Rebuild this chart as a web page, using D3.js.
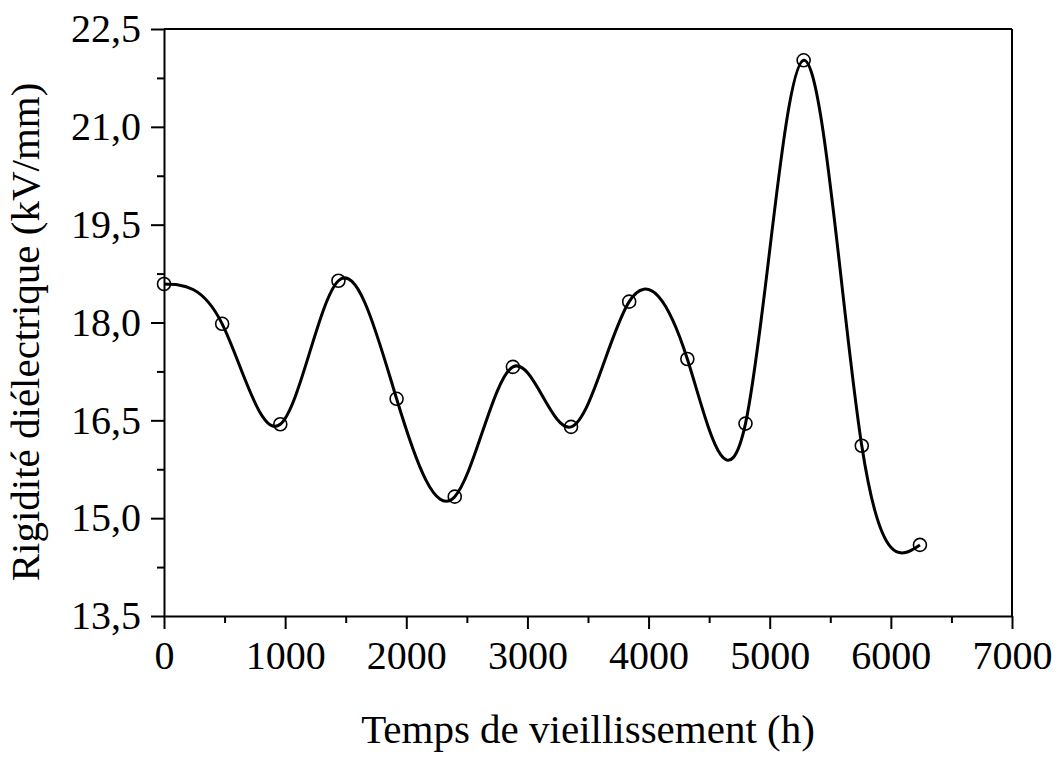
<!DOCTYPE html>
<html>
<head>
<meta charset="utf-8">
<script src="https://cdn.jsdelivr.net/npm/d3@7/dist/d3.min.js"></script>
<style>
  body { margin: 0; background: #fff; }
  svg { display: block; }
  .axis text { font-family: "Liberation Serif", "Times New Roman", serif; font-size: 40px; fill: #000; }
  .axis path, .axis line { stroke: #000; stroke-width: 2; }
  .title { font-family: "Liberation Serif", "Times New Roman", serif; font-size: 41px; fill: #000; }
</style>
</head>
<body>
<svg id="chart"></svg>
<script>
// temps de vieillissement (h)
const hours = [0, 480, 960, 1440, 1920, 2400, 2880, 3360, 3840, 4320, 4800, 5280, 5760, 6240];
// rigidité diélectrique (kV/mm)
const rigidity = [18.59, 17.98, 16.44, 18.64, 16.83, 15.33, 17.32, 16.40, 18.32, 17.44, 16.45, 22.02, 16.11, 14.59];

const xTicks = [0, 1000, 2000, 3000, 4000, 5000, 6000, 7000];
const yTicks = [13.5, 15.0, 16.5, 18.0, 19.5, 21.0, 22.5];

const W = 1059, H = 761;
const margin = { top: 29, right: 47, bottom: 145, left: 164 };
const width = W - margin.left - margin.right;
const height = H - margin.top - margin.bottom;

const svg = d3.select('#chart').attr('width', W).attr('height', H);
const chart = svg.append('g').attr('transform', `translate(${margin.left},${margin.top})`);

const x = d3.scaleLinear().domain([0, 7000]).range([0, width]);
const y = d3.scaleLinear().domain([13.5, 22.5]).range([height, 0]);

const fmt = d => d3.format('.1f')(d).replace('.', ',');

// minor ticks first (no labels)
chart.append('g')
  .attr('class', 'axis')
  .attr('transform', `translate(0,${height})`)
  .call(d3.axisBottom(x).tickValues(d3.range(500, 7000, 1000)).tickSize(7).tickFormat(''))
  .select('.domain').remove();

chart.append('g')
  .attr('class', 'axis')
  .call(d3.axisLeft(y).tickValues(d3.range(14.25, 22.5, 1.5)).tickSize(7).tickFormat(''))
  .select('.domain').remove();

// major axes
chart.append('g')
  .attr('class', 'axis axis--x')
  .attr('transform', `translate(0,${height})`)
  .call(d3.axisBottom(x).tickValues(xTicks).tickSize(13).tickSizeOuter(0).tickPadding(11).tickFormat(d3.format('d')));

chart.append('g')
  .attr('class', 'axis axis--y')
  .call(d3.axisLeft(y).tickValues(yTicks).tickSize(13).tickSizeOuter(0).tickPadding(10).tickFormat(fmt));

chart.selectAll('.axis--x text').attr('dy', '0.72em');

// top and right frame lines
chart.append('line')
  .attr('x1', 0).attr('x2', width).attr('y1', 0).attr('y2', 0)
  .attr('stroke', '#000').attr('stroke-width', 2);
chart.append('line')
  .attr('x1', width).attr('x2', width).attr('y1', 0).attr('y2', height)
  .attr('stroke', '#000').attr('stroke-width', 2);

const data = hours.map((h, i) => [h, rigidity[i]]);

const line = d3.line()
  .curve(d3.curveNatural)
  .x(d => x(d[0]))
  .y(d => y(d[1]));

chart.append('path')
  .datum(data)
  .attr('fill', 'none')
  .attr('stroke', '#000')
  .attr('stroke-width', 3)
  .attr('d', line);

chart.selectAll('.pt')
  .data(data)
  .enter().append('circle')
  .attr('class', 'pt')
  .attr('cx', d => x(d[0]))
  .attr('cy', d => y(d[1]))
  .attr('r', 6.5)
  .attr('fill', 'none')
  .attr('stroke', '#000')
  .attr('stroke-width', 1.6);

// axis titles
svg.append('text')
  .attr('class', 'title')
  .attr('x', margin.left + width / 2)
  .attr('y', 743)
  .attr('text-anchor', 'middle')
  .text('Temps de vieillissement (h)');

svg.append('text')
  .attr('class', 'title')
  .attr('transform', `translate(39,332) rotate(-90)`)
  .attr('text-anchor', 'middle')
  .text('Rigidité diélectrique (kV/mm)');
</script>
</body>
</html>
